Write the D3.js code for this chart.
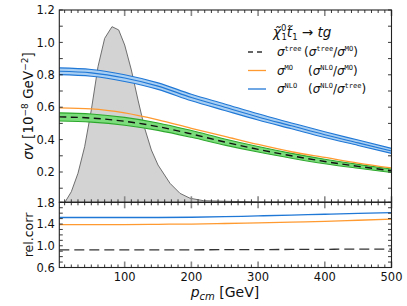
<!DOCTYPE html>
<html><head><meta charset="utf-8">
<script src="https://cdn.jsdelivr.net/npm/d3@7"></script>
<style>body{margin:0;background:#fff}svg{display:block}text{font-family:"DejaVu Sans",sans-serif}</style>
</head><body><svg id="c" width="407" height="306"></svg>
<script>
// ---- data ----
const pGrid = [2,50,100,150,200,250,300,350,400,450,500];
const nloMid   = [0.822,0.812,0.780,0.730,0.660,0.600,0.540,0.485,0.430,0.380,0.330];
const nloUpper = [0.843,0.833,0.800,0.750,0.680,0.620,0.559,0.503,0.448,0.397,0.346];
const nloLower = [0.801,0.791,0.759,0.710,0.640,0.580,0.521,0.467,0.413,0.364,0.315];
const treeMid   = [0.540,0.533,0.513,0.480,0.435,0.385,0.340,0.300,0.265,0.235,0.208];
const treeUpper = [0.565,0.558,0.537,0.503,0.456,0.404,0.357,0.315,0.279,0.247,0.219];
const treeLower = [0.515,0.508,0.489,0.457,0.414,0.366,0.323,0.285,0.251,0.223,0.197];
const moVals    = [0.596,0.590,0.565,0.522,0.470,0.420,0.370,0.325,0.290,0.255,0.225];
const ratioNloTree = [1.52,1.52,1.52,1.52,1.525,1.535,1.55,1.565,1.58,1.595,1.61];
const ratioNloMo   = [1.39,1.39,1.39,1.395,1.40,1.41,1.42,1.435,1.45,1.47,1.49];
const ratioTreeMo  = [0.925,0.925,0.925,0.925,0.926,0.928,0.93,0.932,0.935,0.938,0.94];
const distP   = [5,10,20,30,40,50,60,70,81,91,100,110,120,130,140,150,168,183,198,218,243,300,400,500];
const distVal = [0.0,0.01,0.078,0.192,0.356,0.583,0.85,1.025,1.097,1.077,0.984,0.83,0.644,0.47,0.336,0.243,0.13,0.068,0.038,0.023,0.02,0.015,0.014,0.013];
const xTickLabels = [100,200,300,400,500];
const yTopLabels = [0.2,0.4,0.6,0.8,1.0,1.2];
const yBotLabels = [0.6,1.0,1.4,1.8];

// ---- layout ----
const L=59.3, R=391.5, T=10, M=202.3, B=267.5;
const svg=d3.select("#c");
const x=d3.scaleLinear().domain([2,500]).range([L,R]);
const yT=d3.scaleLinear().domain([0.013,1.2]).range([M,T]);
const yB=d3.scaleLinear().domain([0.6,1.8]).range([B,M]);

const BLUE="#1f77d6", BLUEF="#a9cff2", ORANGE="#ff9a30", GREEN="#2da82d", GREENF="#7bdc7b";

const defs=svg.append("defs");
defs.append("clipPath").attr("id","cT").append("rect").attr("x",L).attr("y",T).attr("width",R-L).attr("height",M-T);
defs.append("clipPath").attr("id","cB").append("rect").attr("x",L).attr("y",M).attr("width",R-L).attr("height",B-M);

const gT=svg.append("g").attr("clip-path","url(#cT)");
const gB=svg.append("g").attr("clip-path","url(#cB)");
const idx=d3.range(pGrid.length);
const cur=d3.curveMonotoneX;

// gray distribution
const di=d3.range(distP.length);
gT.append("path").attr("d",d3.area().x(i=>x(distP[i])).y0(M+2).y1(i=>yT(distVal[i]))(di))
  .attr("fill","#d3d3d3");
gT.append("path").attr("d",d3.line().x(i=>x(distP[i])).y(i=>yT(distVal[i]))(di))
  .attr("fill","none").attr("stroke","#6e6e6e").attr("stroke-width",1);

// green band (tree)
gT.append("path").attr("d",d3.area().curve(cur).x(i=>x(pGrid[i])).y0(i=>yT(treeLower[i])).y1(i=>yT(treeUpper[i]))(idx))
  .attr("fill",GREENF);
[treeUpper,treeLower].forEach(a=>gT.append("path").attr("d",d3.line().curve(cur).x(i=>x(pGrid[i])).y(i=>yT(a[i]))(idx))
  .attr("fill","none").attr("stroke",GREEN).attr("stroke-width",1.1));
gT.append("path").attr("d",d3.line().curve(cur).x(i=>x(pGrid[i])).y(i=>yT(treeMid[i]))(idx))
  .attr("fill","none").attr("stroke","#111").attr("stroke-width",1.4).attr("stroke-dasharray","7,4.5");

// orange MO
gT.append("path").attr("d",d3.line().curve(cur).x(i=>x(pGrid[i])).y(i=>yT(moVals[i]))(idx))
  .attr("fill","none").attr("stroke",ORANGE).attr("stroke-width",1.3);

// blue band NLO
gT.append("path").attr("d",d3.area().curve(cur).x(i=>x(pGrid[i])).y0(i=>yT(nloLower[i])).y1(i=>yT(nloUpper[i]))(idx))
  .attr("fill",BLUEF);
[nloUpper,nloMid,nloLower].forEach(a=>gT.append("path").attr("d",d3.line().curve(cur).x(i=>x(pGrid[i])).y(i=>yT(a[i]))(idx))
  .attr("fill","none").attr("stroke",BLUE).attr("stroke-width",1.1));

// lower panel ratios
gB.append("path").attr("d",d3.line().curve(cur).x(i=>x(pGrid[i])).y(i=>yB(ratioNloTree[i]))(idx))
  .attr("fill","none").attr("stroke",BLUE).attr("stroke-width",1.3);
gB.append("path").attr("d",d3.line().curve(cur).x(i=>x(pGrid[i])).y(i=>yB(ratioNloMo[i]))(idx))
  .attr("fill","none").attr("stroke",ORANGE).attr("stroke-width",1.3);
gB.append("path").attr("d",d3.line().curve(cur).x(i=>x(pGrid[i])).y(i=>yB(ratioTreeMo[i]))(idx))
  .attr("fill","none").attr("stroke","#333").attr("stroke-width",1.3).attr("stroke-dasharray","10,5");

// ---- ticks ----
const tk=svg.append("g").attr("stroke","#222").attr("stroke-width",0.9);
const xs=d3.range(10,501,10);
function xt(yPos,dir){
  xs.forEach(v=>{
    const major=v%100===0;
    const len=major?6:3;
    tk.append("line").attr("x1",x(v)).attr("x2",x(v)).attr("y1",yPos).attr("y2",yPos+dir*len)
      .attr("stroke",major?"#888":"#222").attr("stroke-width",major?1.6:0.9);
  });
}
xt(T,1); xt(M,-1); xt(M,1); xt(B,-1);
function yt(scale,lo,hi){
  d3.range(Math.round(lo*10),Math.round(hi*10)+1).map(v=>v/10).forEach(v=>{
    const yy=scale(v);
    tk.append("line").attr("x1",L).attr("x2",L+3.5).attr("y1",yy).attr("y2",yy);
    tk.append("line").attr("x1",R).attr("x2",R-3.5).attr("y1",yy).attr("y2",yy);
  });
}
yt(yT,0.1,1.2); yt(yB,0.6,1.8);

// frames
svg.append("rect").attr("x",L).attr("y",T).attr("width",R-L).attr("height",M-T).attr("fill","none").attr("stroke","#222").attr("stroke-width",1.1);
svg.append("rect").attr("x",L).attr("y",M).attr("width",R-L).attr("height",B-M).attr("fill","none").attr("stroke","#222").attr("stroke-width",1.1);

// tick labels
const fs=11.5;
yTopLabels.forEach(v=>svg.append("text").attr("x",L-4.5).attr("y",yT(v)+4.2).attr("text-anchor","end").attr("font-size",fs).attr("fill","#111").text(v.toFixed(1)));
yBotLabels.forEach(v=>svg.append("text").attr("x",L-4.5).attr("y",yB(v)+4.2).attr("text-anchor","end").attr("font-size",fs).attr("fill","#111").text(v.toFixed(1)));
xTickLabels.forEach(v=>svg.append("text").attr("x",x(v)).attr("y",281).attr("text-anchor","middle").attr("font-size",fs).attr("fill","#111").text(v));

// axis titles
const yl=svg.append("text").attr("transform","translate(33,106) rotate(-90)").attr("text-anchor","middle").attr("font-size",13.5).attr("fill","#111");
yl.append("tspan").attr("font-style","italic").text("σv");
yl.append("tspan").text(" [10");
yl.append("tspan").attr("dy",-5).attr("font-size",9).text("−8");
yl.append("tspan").attr("dy",5).text(" GeV");
yl.append("tspan").attr("dy",-5).attr("font-size",9).text("−2");
yl.append("tspan").attr("dy",5).text("]");

svg.append("text").attr("transform","translate(33,235) rotate(-90)").attr("text-anchor","middle").attr("font-size",12.5).attr("fill","#111").text("rel.corr");

const xl=svg.append("text").attr("x",225).attr("y",297).attr("text-anchor","middle").attr("font-size",14).attr("fill","#111");
xl.append("tspan").attr("font-style","italic").text("p");
xl.append("tspan").attr("font-style","italic").attr("font-size",10).attr("dy",3).text("cm");
xl.append("tspan").attr("dy",-3).text(" [GeV]");

// legend
const lt=svg.append("text").attr("x",273).attr("y",37).attr("font-size",13.5).attr("fill","#111");
lt.append("tspan").attr("font-style","italic").text("χ\u0303");
lt.append("tspan").attr("font-size",8.5).attr("dy",-6).text("0");
lt.append("tspan").attr("font-size",8.5).attr("dx",-5).attr("dy",9).text("1");
lt.append("tspan").attr("font-style","italic").attr("dy",-3).text("t\u0303");
lt.append("tspan").attr("font-size",8.5).attr("dy",3).text("1");
lt.append("tspan").attr("dy",-3).text(" → ");
lt.append("tspan").attr("font-style","italic").text("tg");

const legItems=[
  {sup:"tree", n:"tree", d:"MO", color:"#333", dash:"5,4", y:52, tx:304},
  {sup:"MO", n:"NLO", d:"MO", color:ORANGE, dash:null, y:70.5, tx:308},
  {sup:"NLO", n:"NLO", d:"tree", color:BLUE, dash:null, y:89, tx:308}
];
legItems.forEach(it=>{
  const ln=svg.append("line").attr("x1",248).attr("x2",266).attr("y1",it.y).attr("y2",it.y).attr("stroke",it.color).attr("stroke-width",1.3);
  if(it.dash) ln.attr("stroke-dasharray",it.dash);
  const t=svg.append("text").attr("x",277).attr("y",it.y+4).attr("font-size",12).attr("fill","#111");
  t.append("tspan").attr("font-style","italic").text("σ");
  t.append("tspan").attr("font-family","DejaVu Sans Mono").attr("font-size",7).attr("dy",-5).text(it.sup);
  const t2=svg.append("text").attr("x",it.tx).attr("y",it.y+4).attr("font-size",12).attr("fill","#111");
  t2.append("tspan").text("(");
  t2.append("tspan").attr("font-style","italic").text("σ");
  t2.append("tspan").attr("font-family","DejaVu Sans Mono").attr("font-size",7).attr("dy",-5).text(it.n);
  t2.append("tspan").attr("dy",5).text("/");
  t2.append("tspan").attr("font-style","italic").text("σ");
  t2.append("tspan").attr("font-family","DejaVu Sans Mono").attr("font-size",7).attr("dy",-5).text(it.d);
  t2.append("tspan").attr("dy",5).text(")");
});
</script></body></html>
